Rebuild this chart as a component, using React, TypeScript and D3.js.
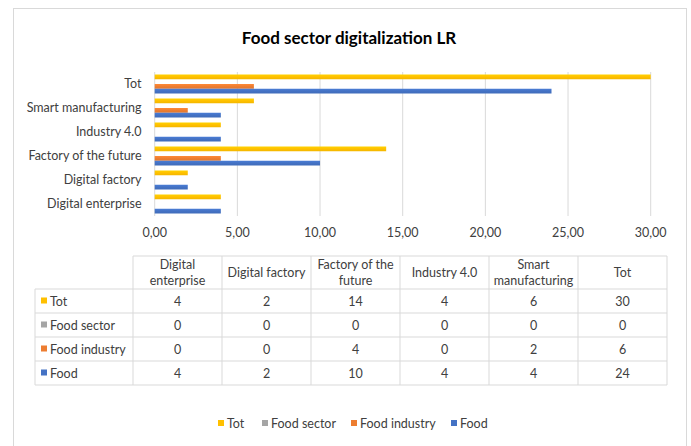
import React from "react";
import * as d3 from "d3";

const categories = ["Digital enterprise", "Digital factory", "Factory of the future", "Industry 4.0", "Smart manufacturing", "Tot"];
const headerLines = [["Digital", "enterprise"], ["Digital factory"], ["Factory of the", "future"], ["Industry 4.0"], ["Smart", "manufacturing"], ["Tot"]];
const seriesNames = ["Tot", "Food sector", "Food industry", "Food"];
const seriesColors = ["#FFC000", "#A5A5A5", "#ED7D31", "#4472C4"];
const totValues = [4, 2, 14, 4, 6, 30];
const foodSectorValues = [0, 0, 0, 0, 0, 0];
const foodIndustryValues = [0, 0, 4, 0, 2, 6];
const foodValues = [4, 2, 10, 4, 4, 24];
const seriesValues = [totValues, foodSectorValues, foodIndustryValues, foodValues];
const xTicks = [0, 5, 10, 15, 20, 25, 30];

const FONT = "Lato, 'Open Sans', sans-serif";

export default function App() {
  const W = 691, H = 446;
  const x = d3.scaleLinear().domain([0, 30]).range([154.7, 650.7]);
  const y = d3.scaleBand<string>().domain([...categories].reverse()).range([72, 216]).padding(0);
  const inner = d3.scaleBand<string>().domain(seriesNames).range([2.5, 21.5]).padding(0);
  const fmt = (v: number) => v.toFixed(2).replace(".", ",");

  const colX = d3.scaleBand<string>().domain(categories).range([133, 667]).padding(0);
  const tableLeft = 35;
  const headerTop = 256;
  const headerBottom = 289;
  const rowH = 24;
  const gridColor = "#D9D9D9";
  const textColor = "#404040";
  const tableText = "#404040";
  const fs = 12.5;

  const legendItems = [
    { name: "Tot", x: 218 },
    { name: "Food sector", x: 262 },
    { name: "Food industry", x: 351 },
    { name: "Food", x: 451 },
  ];

  return (
    <svg width={W} height={H} style={{ position: "absolute", left: 0, top: 0, fontFamily: FONT }}>
      <defs>
        {seriesColors.map((c, i) => (
          <linearGradient key={i} id={"g" + i} x1="0" y1="0" x2="0" y2="1">
            <stop offset="0" stopColor={d3.color(c)!.brighter(0.25).formatHex()} />
            <stop offset="0.5" stopColor={c} />
            <stop offset="1" stopColor={d3.color(c)!.darker(0.15).formatHex()} />
          </linearGradient>
        ))}
      </defs>
      <rect x={0} y={0} width={W} height={H} fill="#fff" />
      <rect x={13.5} y={8.5} width={673} height={450} fill="#fff" stroke="#D9D9D9" strokeWidth={1} />
      <text x={349} y={44} textAnchor="middle" fontSize={17} fontWeight={700} fill="#000">Food sector digitalization LR</text>

      {xTicks.map((t) => (
        <g key={t}>
          <line x1={x(t)} x2={x(t)} y1={72} y2={216} stroke={gridColor} strokeWidth={1} />
          <text x={x(t)} y={237} textAnchor="middle" fontSize={fs} fill={textColor}>{fmt(t)}</text>
        </g>
      ))}

      {categories.map((c) => (
        <text key={c} x={141.5} y={(y(c) as number) + y.bandwidth() / 2 + 4} textAnchor="end" fontSize={fs} fill={textColor}>{c}</text>
      ))}

      {seriesNames.map((s, si) =>
        categories.map((c, ci) => {
          const v = seriesValues[si][ci];
          if (v === 0) return null;
          return (
            <rect
              key={s + c}
              x={x(0)}
              y={(y(c) as number) + (inner(s) as number)}
              width={x(v) - x(0)}
              height={inner.bandwidth()}
              fill={`url(#g${si})`}
            />
          );
        })
      )}

      <g>
        <line x1={133} x2={667} y1={headerTop} y2={headerTop} stroke={gridColor} />
        {[0, 1, 2, 3, 4].map((i) => (
          <line key={i} x1={tableLeft} x2={667} y1={headerBottom + i * rowH} y2={headerBottom + i * rowH} stroke={gridColor} />
        ))}
        <line x1={tableLeft} x2={tableLeft} y1={headerBottom} y2={headerBottom + 4 * rowH} stroke={gridColor} />
        {categories.map((c) => (
          <line key={c} x1={colX(c)} x2={colX(c)} y1={headerTop} y2={headerBottom + 4 * rowH} stroke={gridColor} />
        ))}
        <line x1={667} x2={667} y1={headerTop} y2={headerBottom + 4 * rowH} stroke={gridColor} />

        {categories.map((c, ci) => {
          const lines = headerLines[ci];
          const cx = (colX(c) as number) + colX.bandwidth() / 2;
          const mid = (headerTop + headerBottom) / 2;
          return (
            <text key={c} textAnchor="middle" fontSize={fs} fill={tableText}>
              {lines.map((l, li) => (
                <tspan key={li} x={cx} y={mid + 4.5 + (li - (lines.length - 1) / 2) * 16}>{l}</tspan>
              ))}
            </text>
          );
        })}

        {seriesNames.map((s, si) => {
          const ry = headerBottom + si * rowH;
          return (
            <g key={s}>
              <rect x={41} y={ry + rowH / 2 - 3.5} width={6} height={6} fill={seriesColors[si]} />
              <text x={50} y={ry + rowH / 2 + 4.5} fontSize={fs} fill={tableText}>{s}</text>
              {categories.map((c, ci) => (
                <text key={c} x={(colX(c) as number) + colX.bandwidth() / 2} y={ry + rowH / 2 + 4.5} textAnchor="middle" fontSize={fs} fill={tableText}>
                  {seriesValues[si][ci]}
                </text>
              ))}
            </g>
          );
        })}
      </g>

      {legendItems.map((it, i) => (
        <g key={it.name}>
          <rect x={it.x} y={420} width={6} height={6} fill={seriesColors[i]} />
          <text x={it.x + 9} y={428} fontSize={fs} fill={textColor}>{it.name}</text>
        </g>
      ))}
    </svg>
  );
}
